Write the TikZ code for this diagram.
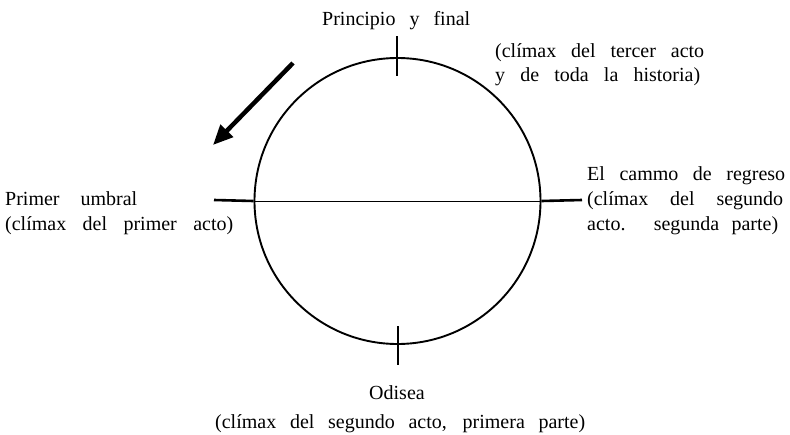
\documentclass[tikz,border=0pt]{standalone}
\usepackage{fontspec}
\setmainfont{Liberation Serif}
\usetikzlibrary{arrows.meta}
\newcommand{\spread}[2]{\makebox[#1][s]{#2}}

\begin{document}
\begin{tikzpicture}[
  x=1pt, y=-1pt,
  lbl/.style={inner sep=0pt, anchor=base west, font=\fontsize{20}{25}\selectfont},
  ring/.style={circle, draw=black, line width=1.9pt, minimum size=286pt, inner sep=0pt},
  tick/.style={draw=black, line width=1.9pt},
  bigarrow/.style={-{Triangle[length=20pt,width=17pt]}, draw=black, line width=4.5pt}
]
  \useasboundingbox (0,0) rectangle (790,434);
  \node[ring] (cyc) at (397.5,201) {};
  % axis through the circle
  \coordinate (lend) at (214,200);
  \coordinate (rend) at (582,200);
  \draw[line width=2.6pt] (lend) -- (cyc.west);
  \draw[line width=1pt] (cyc.west) -- (cyc.east);
  \draw[line width=2.6pt] (cyc.east) -- (rend);
  \draw[tick] (397,36) -- (397,76);
  \draw[tick] (398,326) -- (398,365);
  % direction
  \coordinate (atail) at (293,63);
  \coordinate (ahead) at (213,145);
  \draw[bigarrow] (atail) -- (ahead);
  % labels
  \node[lbl] (top) at (322,25) {\spread{148pt}{Principio y final}};
  \node[lbl] (tra) at (495,57) {\spread{209pt}{(clímax del tercer acto}};
  \node[lbl] (trb) at (495,81) {\spread{205pt}{y de toda la historia)}};
  \node[lbl] (lfa) at (5,205) {\spread{132pt}{Primer umbral}};
  \node[lbl] (lfb) at (5,230) {\spread{228pt}{(clímax del primer acto)}};
  \node[lbl] (rta) at (587,180) {\spread{198pt}{El cammo de regreso}};
  \node[lbl] (rtb) at (587,205) {\spread{196pt}{(clímax del segundo}};
  \node[lbl] (rtc) at (587,230) {\spread{191pt}{acto. segunda parte)}};
  \node[lbl, anchor=base] (bta) at (397,399) {Odisea};
  \node[lbl] (btb) at (215,428) {\spread{370pt}{(clímax del segundo acto, primera parte)}};
\end{tikzpicture}
\end{document}
